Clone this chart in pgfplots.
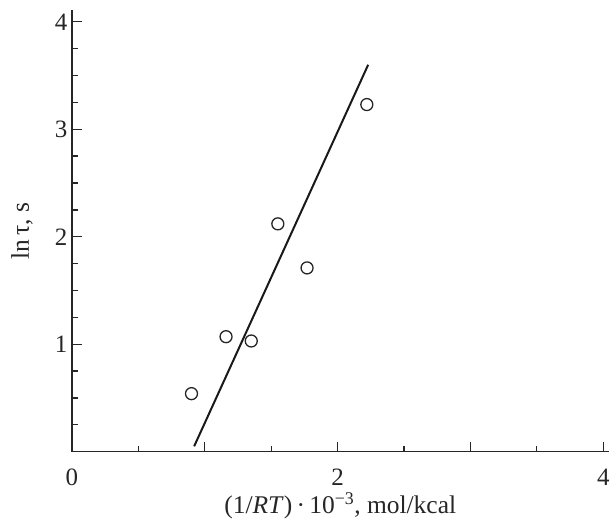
\documentclass[border=0pt]{standalone}
\usepackage{fontspec}
\setmainfont{Liberation Serif}
\usepackage{pgfplots}
\pgfplotsset{compat=1.18}

\begin{document}
\begin{tikzpicture}
\begin{axis}[
  scale only axis,
  width=537pt, height=442pt,
  xmin=0, xmax=4.04, ymin=0, ymax=4.11,
  axis lines=left, axis line style={-, line width=1.6pt, black!85},
  tick align=inside,
  major tick length=10pt, minor tick length=6pt,
  every tick/.style={line width=1.3pt, black!85},
  xtick={0,1,2,3,4}, xticklabels={0,,2,,4},
  minor xtick={0.5,1.5,2.5,3.5},
  ytick={0,1,2,3,4}, yticklabels={,1,2,3,4},
  minor ytick={0.25,0.5,0.75,1.25,1.5,1.75,2.25,2.5,2.75,3.25,3.5,3.75},
  /pgf/number format/assume math mode=true,
  font=\fontsize{25.5}{29}\selectfont,
  ticklabel style={font=\fontsize{25}{29}\selectfont, black!85},
  xticklabel style={inner sep=0.5pt, yshift=-17pt},
  yticklabel style={xshift=-1pt},
  xlabel={(1/\textit{RT})\,·\,10\textsuperscript{−3}, mol/kcal},
  ylabel={ln\,τ, s},
  label style={font=\fontsize{25.5}{29}\selectfont, black!85, inner sep=0pt},
  xlabel style={at={(axis description cs:0.5,-0.140)}, anchor=base},
  ylabel style={at={(axis description cs:-0.093,0.5)}, anchor=center, rotate=0},
  clip=false,
]
  \addplot[only marks, mark=o, mark size=6pt, mark options={line width=1.3pt, black!85}]
    coordinates {(0.90,0.54)(1.16,1.07)(1.35,1.03)(1.55,2.12)(1.77,1.71)(2.22,3.23)};
  \addplot[line width=2pt, black!90]
    coordinates {(0.92,0.05)(2.23,3.60)};
  \coordinate (o) at (rel axis cs:0,0);
\end{axis}
\useasboundingbox (o) ++(-72pt,-73pt) rectangle ++(610pt,525pt);
\end{tikzpicture}
\end{document}
